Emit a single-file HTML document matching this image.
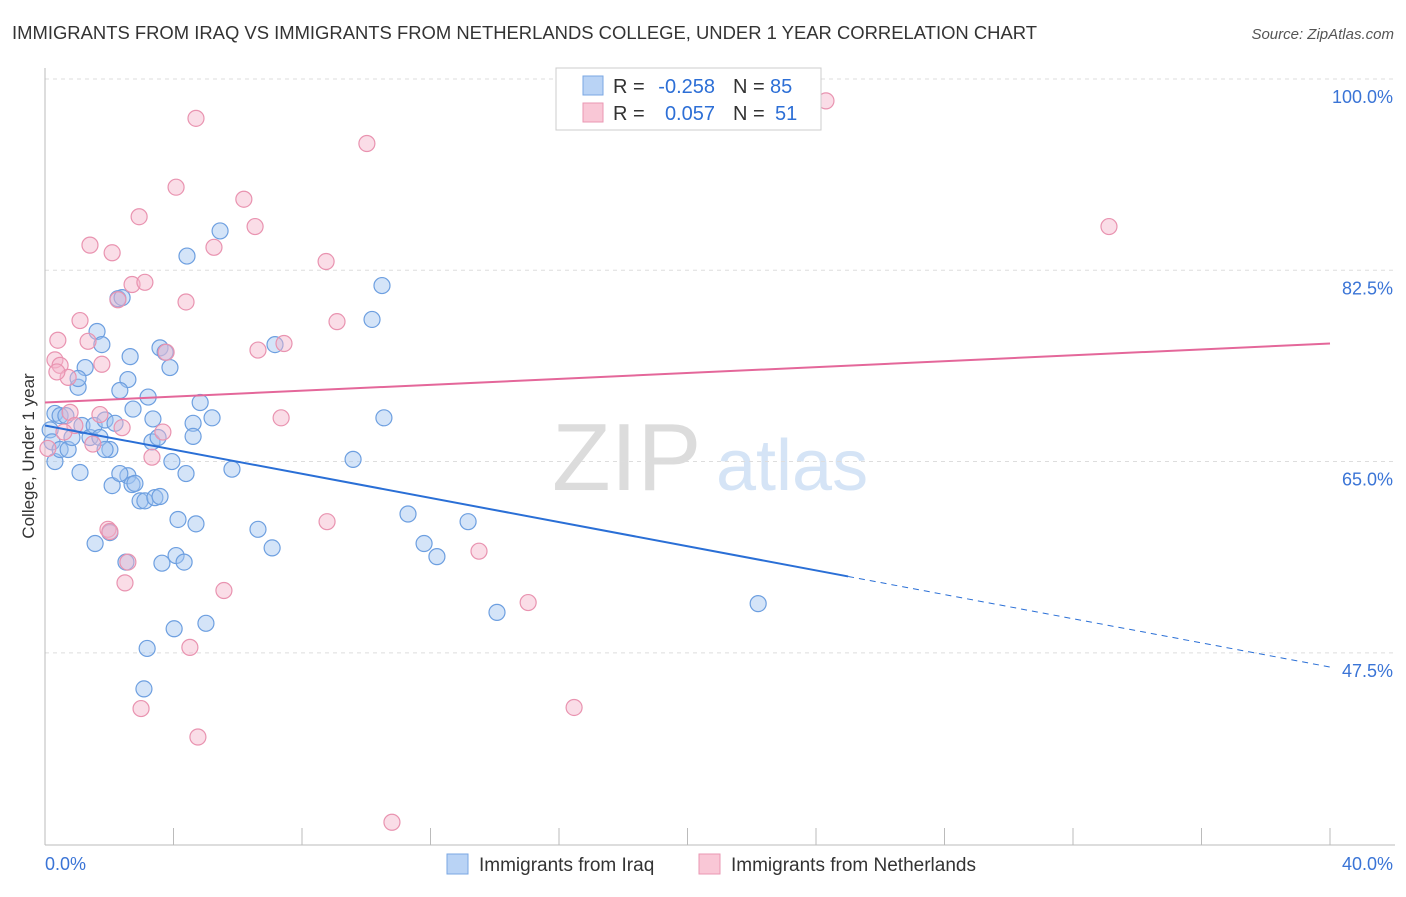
<!DOCTYPE html>
<html><head><meta charset="utf-8"><style>
body{margin:0;background:#fff;font-family:"Liberation Sans",sans-serif;}
svg text{font-family:"Liberation Sans",sans-serif;}
</style></head><body>
<svg id="chart" width="1406" height="892" xmlns="http://www.w3.org/2000/svg">
<text x="12" y="39" font-size="18" fill="#333" textLength="1025" lengthAdjust="spacingAndGlyphs">IMMIGRANTS FROM IRAQ VS IMMIGRANTS FROM NETHERLANDS COLLEGE, UNDER 1 YEAR CORRELATION CHART</text>
<text x="1394" y="39" font-size="15" fill="#555" text-anchor="end" font-style="italic">Source: ZipAtlas.com</text>
<text x="552" y="490" font-size="96" fill="#dcdcdc" font-family="Liberation Serif,serif">ZIP</text>
<text x="716" y="490" font-size="72" fill="#d5e4f6">atlas</text>
<text transform="translate(34,456) rotate(-90)" font-size="17" fill="#333" text-anchor="middle">College, Under 1 year</text>
<g id="grid"></g><g id="pts"></g><g id="lines"></g>
<g>
<rect x="556" y="68" width="265" height="62" fill="#fff" stroke="#ccc"/>
<rect x="583" y="76" width="20" height="19" fill="#b9d3f5" stroke="#7aa7e3"/>
<rect x="583" y="103" width="20" height="19" fill="#f9c7d6" stroke="#ea97b3"/>
<text x="613" y="93" font-size="20" fill="#333">R =</text>
<text x="715" y="93" font-size="20" fill="#2d6fd6" text-anchor="end">-0.258</text>
<text x="733" y="93" font-size="20" fill="#333">N =</text>
<text x="770" y="93" font-size="20" fill="#2d6fd6">85</text>
<text x="613" y="120" font-size="20" fill="#333">R =</text>
<text x="715" y="120" font-size="20" fill="#2d6fd6" text-anchor="end">0.057</text>
<text x="733" y="120" font-size="20" fill="#333">N =</text>
<text x="775" y="120" font-size="20" fill="#2d6fd6">51</text>
</g>
<g>
<rect x="447" y="854" width="21" height="20" fill="#b9d3f5" stroke="#7aa7e3"/>
<text x="479" y="871" font-size="19" fill="#333">Immigrants from Iraq</text>
<rect x="699" y="854" width="21" height="20" fill="#f9c7d6" stroke="#ea97b3"/>
<text x="731" y="871" font-size="19" fill="#333">Immigrants from Netherlands</text>
</g>
</svg>
<script>
const yTicks=[100,82.5,65,47.5];
const xTickLabels=["0.0%","40.0%"];
const iraqX=[0.31,0.47,0.65,0.16,0.22,0.31,0.47,0.72,0.84,1.15,1.40,1.53,1.71,1.87,2.18,2.02,1.09,1.03,1.25,1.03,1.62,1.77,2.27,2.40,2.65,2.58,2.33,2.74,3.21,3.36,3.33,3.52,3.89,3.58,3.74,4.83,4.61,4.61,5.20,5.82,4.42,5.45,7.16,10.18,10.49,10.55,9.59,2.58,2.09,2.71,2.80,2.96,3.11,3.42,3.58,3.95,4.39,4.14,4.70,6.63,7.07,1.56,2.02,2.52,3.64,4.08,4.33,4.02,5.01,3.18,3.08,11.30,11.80,12.20,13.17,14.07,22.20,2.33,1.87];
const iraqY=[69.4,69.2,69.2,67.9,66.8,65.0,66.1,66.1,67.2,68.3,67.2,68.3,67.2,68.8,68.5,66.1,64.0,71.8,73.6,72.6,76.9,75.7,79.9,80.0,74.6,72.5,71.5,69.8,70.9,68.9,66.8,67.2,73.6,75.4,75.0,70.4,68.5,67.3,69.0,64.3,83.8,86.1,75.7,78.0,81.1,69.0,65.2,63.7,62.8,62.9,63.0,61.4,61.4,61.7,61.8,65.0,63.9,59.7,59.3,58.8,57.1,57.5,58.5,55.8,55.7,56.4,55.8,49.7,50.2,47.9,44.2,60.2,57.5,56.3,59.5,51.2,52.0,63.9,66.1];
const nethX=[0.31,0.47,0.40,0.72,0.78,0.93,1.09,1.34,1.40,1.77,2.09,1.49,2.27,2.40,2.71,3.11,2.93,3.77,3.67,3.33,4.08,4.39,4.70,5.26,6.19,6.54,6.63,7.44,7.35,8.75,9.09,10.02,8.78,1.96,2.02,2.58,2.49,5.57,4.51,2.99,4.76,10.80,13.51,15.04,16.47,24.31,33.12,0.59,0.09,1.71,0.37];
const nethY=[74.3,73.8,76.1,72.7,69.5,68.3,77.9,76.0,84.8,73.9,84.1,66.6,79.8,68.1,81.2,81.4,87.4,75.0,67.7,65.4,90.1,79.6,96.4,84.6,89.0,86.5,75.2,75.8,69.0,83.3,77.8,94.1,59.5,58.8,58.6,55.8,53.9,53.2,48.0,42.4,39.8,32.0,56.8,52.1,42.5,98.0,86.5,67.7,66.2,69.3,73.2];
const iraqTrend=[68.3,46.2]; const iraqSolidEnd=25.0;
const nethTrend=[70.4,75.8];
const NS="http://www.w3.org/2000/svg";
const X=v=>45+v/40*1285, Y=v=>79+(100-v)*10.93;
function mk(t,a,p){const e=document.createElementNS(NS,t);for(const k in a)e.setAttribute(k,a[k]);p.appendChild(e);return e;}
const grid=document.getElementById('grid');
yTicks.forEach(t=>{
 const l=mk('line',{x1:45,x2:1395,y1:Y(t),y2:Y(t),stroke:'#ddd','stroke-dasharray':'4,4'},grid);
 
 
 const tx=mk('text',{x:1393,y:Y(t)+24,'font-size':18,fill:'#3a74d6','text-anchor':'end'},grid);
 tx.textContent=t.toFixed(1)+'%';
 
 
});
const ax=mk('line',{x1:45,x2:45,y1:68,y2:845,stroke:'#bbb'},grid);


const bx=mk('line',{x1:45,x2:1395,y1:845,y2:845,stroke:'#bbb'},grid);


for(let i=0;i<=10;i++){const t=mk('line',{x1:X(i*4),x2:X(i*4),y1:828,y2:845,stroke:'#bbb'},grid);
 
 }
[[0,'start',45],[40,'end',1393]].forEach((d,i)=>{const t=mk('text',{x:d[2],y:870,'font-size':18,fill:'#3a74d6','text-anchor':d[1]},grid);t.textContent=xTickLabels[i];
 
 });
const pts=document.getElementById('pts');
iraqX.forEach((x,i)=>{const c=mk('circle',{cx:X(x),cy:Y(iraqY[i]),r:8,fill:'rgba(160,195,240,0.45)',stroke:'#6d9fe0','stroke-width':1.2},pts);
 
 });
nethX.forEach((x,i)=>{const c=mk('circle',{cx:X(x),cy:Y(nethY[i]),r:8,fill:'rgba(245,180,202,0.45)',stroke:'#e993b0','stroke-width':1.2},pts);
 
 });
const lines=document.getElementById('lines');
const f=x=>iraqTrend[0]+(iraqTrend[1]-iraqTrend[0])*x/40;
const l1=mk('line',{x1:X(0),y1:Y(f(0)),x2:X(iraqSolidEnd),y2:Y(f(iraqSolidEnd)),stroke:'#2a6fd6','stroke-width':2},lines);


const l2=mk('line',{x1:X(iraqSolidEnd),y1:Y(f(iraqSolidEnd)),x2:X(40),y2:Y(f(40)),stroke:'#2a6fd6','stroke-width':1,'stroke-dasharray':'6,5'},lines);


const l3=mk('line',{x1:X(0),y1:Y(nethTrend[0]),x2:X(40),y2:Y(nethTrend[1]),stroke:'#e4679a','stroke-width':2},lines);


</script>
</body></html>
